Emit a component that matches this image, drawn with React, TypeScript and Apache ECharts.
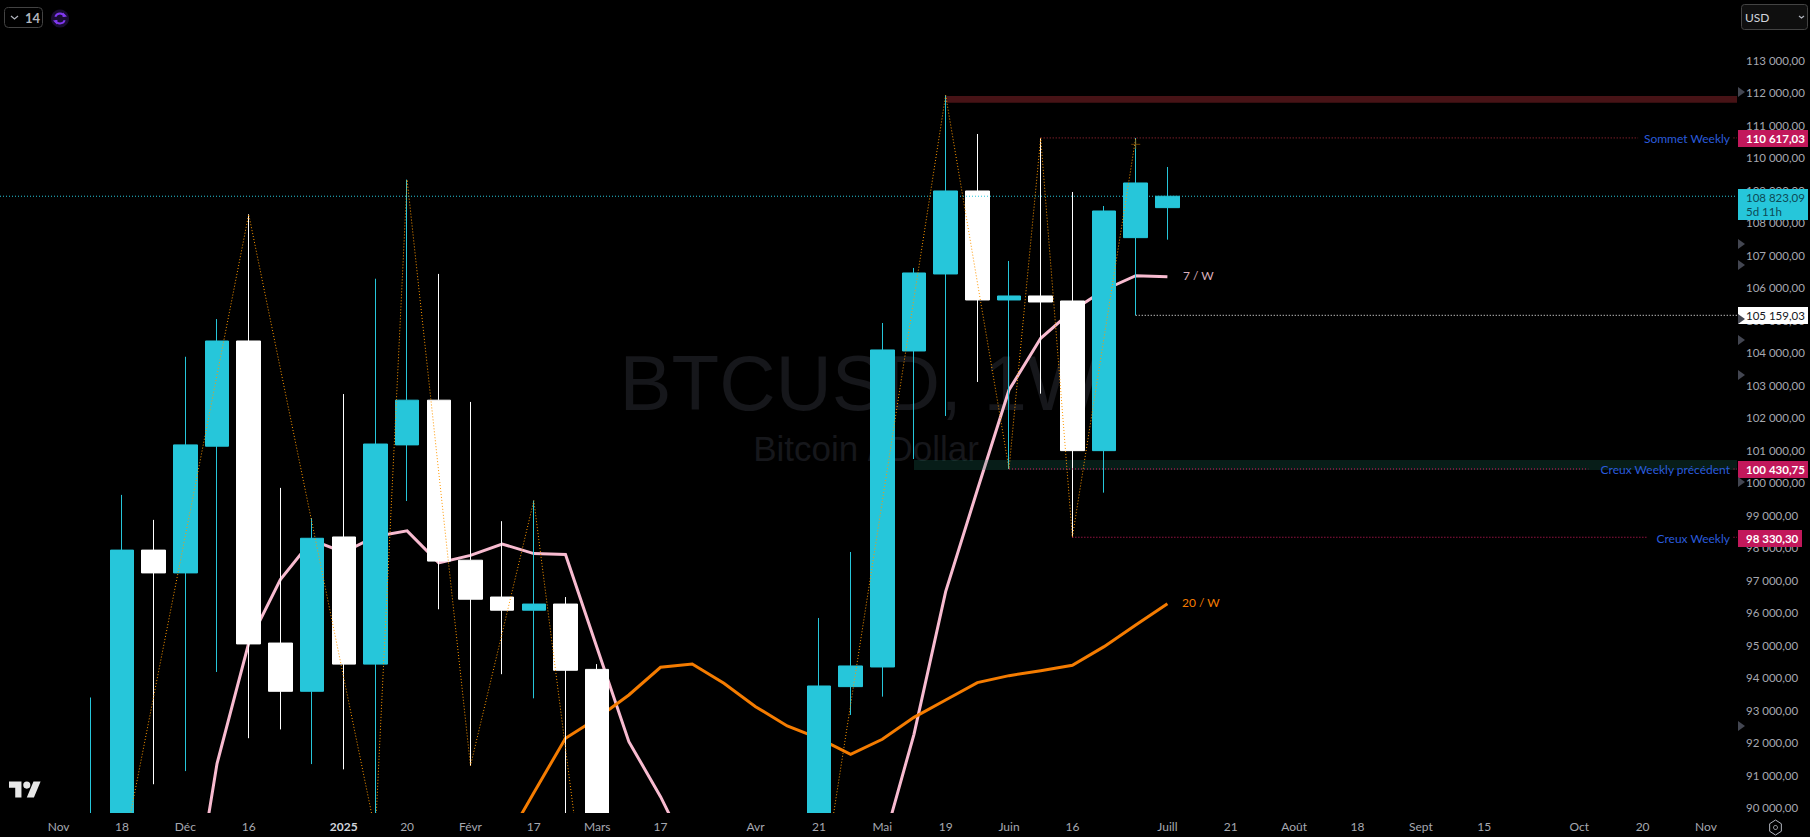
import React, { useEffect, useRef } from "react";
import * as echarts from "echarts";

const UI_FONT = "Lato, 'Noto Sans', sans-serif";
const DAY = 86400000;

// Weekly candles, week start dates
const weeks = [
  "2024-11-11","2024-11-18","2024-11-25","2024-12-02","2024-12-09","2024-12-16","2024-12-23","2024-12-30",
  "2025-01-06","2025-01-13","2025-01-20","2025-01-27","2025-02-03","2025-02-10","2025-02-17","2025-02-24",
  "2025-03-03","2025-03-10","2025-03-17","2025-03-24","2025-03-31","2025-04-07","2025-04-14","2025-04-21",
  "2025-04-28","2025-05-05","2025-05-12","2025-05-19","2025-05-26","2025-06-02","2025-06-09","2025-06-16",
  "2025-06-23","2025-06-30","2025-07-07",
];
const opens = [80400,89800,97935,97233,101132,104369,95075,93591,98339,94427,101172,102548,97624,96491,96086,96275,94265,80700,82600,86050,82400,83500,83800,85100,93734,94339,104062,106431,108985,105631,105754,105600,100995,107549,108472];
const closes = [89800,97935,97233,101172,104369,95048,93591,98299,94427,101199,102548,97597,96424,96086,96275,94238,80700,82600,86050,82400,83500,83800,85100,93754,94370,104093,106462,108985,105631,105754,105569,100995,108369,109231,108823];
const lows = [76500,89400,90731,91135,94185,92147,92417,91351,91189,89256,99445,96114,91297,94117,93375,78200,80000,76600,81100,81600,81200,74434,83100,83900,92862,93426,100738,102062,103108,100430,102749,98330,99703,105159,107487];
const highs = [93400,99634,98865,103884,105044,108268,99850,98919,102737,106285,109334,106433,102494,98825,99459,96491,94427,84700,87400,88772,88500,84300,86400,95847,97877,104923,106616,111928,110738,106831,110617,108954,108523,110617,109723];

// Moving averages
const ma7Weeks = weeks.slice(3);
const ma7 = [85400,91365,95075,97031,98245,97867,98353,98528,97543,97773,98123,97827,97800,94913,92042,90349,88380,86500,85000,84500,85000,87000,88780,92267,96657,99785,102862,104451,105300,105939,106380,106349];
const ma20Weeks = weeks.slice(12);
const ma20 = [87000,88770,90470,92147,92760,93478,94329,94431,93836,93118,92524,92144,91652,92113,92790,93323,93857,94072,94226,94390,94965,95630,96286];

// Zigzag pivots
const zigzagDates = ["2024-11-04","2024-12-16","2025-01-13","2025-01-20","2025-02-03","2025-02-17","2025-03-10","2025-03-24","2025-04-07","2025-05-19","2025-06-02","2025-06-09","2025-06-16","2025-06-30"];
const zigzagValues = [78600,108268,89256,109334,91297,99459,76600,88772,74434,111928,100430,110617,98330,110617];

// Axis ticks
const xTickDates = ["2024-11-04","2024-11-18","2024-12-02","2024-12-16","2025-01-06","2025-01-20","2025-02-03","2025-02-17","2025-03-03","2025-03-17","2025-04-07","2025-04-21","2025-05-05","2025-05-19","2025-06-02","2025-06-16","2025-07-07","2025-07-21","2025-08-04","2025-08-18","2025-09-01","2025-09-15","2025-10-06","2025-10-20","2025-11-03"];
const xTickLabels = ["Nov","18","Déc","16","2025","20","Févr","17","Mars","17","Avr","21","Mai","19","Juin","16","Juill","21","Août","18","Sept","15","Oct","20","Nov"];
const yTicks = [90000,91000,92000,93000,94000,95000,96000,97000,98000,99000,100000,101000,102000,103000,104000,105000,106000,107000,108000,109000,110000,111000,112000,113000];

// Levels
const LAST_PRICE = 108823.09;
const TOP_WEEKLY = 110617.03;
const PREV_LOW_WEEKLY = 100430.75;
const LOW_WEEKLY = 98330.3;
const WICK_LOW = 105159.03;

const ts = (s: string) => Date.parse(s + "T00:00:00Z");
const X_ZERO = ts("2024-11-18");
const dateAt = (i: number) => X_ZERO + i * 7 * DAY;
const X_MIN = dateAt(-3.851);
const X_MAX = dateAt(50.98);
const Y_MIN = 89846;
const Y_MAX = 114861;

const fmtPrice = (v: number) => {
  const [a, b] = v.toFixed(2).split(".");
  return a.replace(/\B(?=(\d{3})+$)/g, "\u202f") + "," + b;
};

const seg = (dates: string[], vals: number[]) => dates.map((d, i) => [ts(d), vals[i]]);

const levelLine = (name: string, start: number, end: number, value: number, color: string, z: number, tail = false) => ({
  name,
  type: "line",
  z,
  silent: true,
  symbol: "none",
  connectNulls: false,
  lineStyle: { color, width: 1, type: [1, 2] },
  data: tail
    ? [[start, value], [end, value], [end + DAY, "-"], [dateAt(50.87), value], [X_MAX, value]]
    : [[start, value], [end, value]],
});

const zone = (name: string, start: string, low: number, high: number, color: string, z: number) => ({
  name,
  type: "custom",
  z,
  silent: true,
  clip: true,
  itemStyle: { color },
  encode: { x: [0, 1], y: [2, 3] },
  data: [[ts(start), X_MAX, low, high]],
  renderItem: (_: any, api: any) => {
    const a = api.coord([api.value(0), api.value(3)]);
    const b = api.coord([api.value(1), api.value(2)]);
    return { type: "rect", shape: { x: a[0], y: a[1], width: b[0] - a[0], height: b[1] - a[1] }, style: { fill: api.visual("color") } };
  },
});

const tag = (yc: number, h: number, w: number, fill: string, color: string, text: string, bold: boolean): any[] => [
  { type: "rect", z: 100, shape: { x: 1738, y: Math.round(yc - h / 2), width: w, height: h }, style: { fill } },
  { type: "text", z: 101, x: 1746, y: yc, style: { text, fill: color, font: `${bold ? "bold " : ""}11.5px ${UI_FONT}`, textVerticalAlign: "middle", textAlign: "left" } },
];

const lineLabel = (right: number, y: number, text: string, fill: string): any => ({
  type: "text", z: 50, x: right, y, style: { text, fill, font: `12px ${UI_FONT}`, textAlign: "right", textVerticalAlign: "middle" },
});

echarts.graphic.registerShape("tvlogo", echarts.graphic.extendPath("M14 22H7V11H0V4h14v18zM28 22h-8l7.5-18h8L28 22zM16 8a4 4 0 1 0 8 0a4 4 0 1 0-8 0z", {}) as any);

export default function App() {
  const ref = useRef<HTMLDivElement>(null);
  useEffect(() => {
    document.body.style.margin = "0";
    document.body.style.background = "#000";
    const chart = echarts.init(ref.current!, undefined, { renderer: "svg" });
    chart.setOption({
      animation: false,
      backgroundColor: "#000000",
      grid: { left: 0, right: 73, top: 0, bottom: 24, containLabel: false },
      xAxis: {
        type: "value",
        scale: true,
        z: 20,
        min: X_MIN,
        max: X_MAX,
        axisLine: { show: false },
        axisTick: { show: false },
        splitLine: { show: false },
        axisLabel: {
          customValues: xTickDates.map(ts),
          hideOverlap: false,
          margin: 7,
          color: "#a6a8b0",
          fontFamily: UI_FONT,
          fontSize: 12,
          formatter: (v: number) => {
            const s = xTickLabels[xTickDates.map(ts).indexOf(v)] ?? "";
            return s === "2025" ? `{b|${s}}` : s;
          },
          rich: { b: { color: "#d1d4dc", fontFamily: UI_FONT, fontSize: 12, fontWeight: "bold" } },
        },
      },
      yAxis: {
        type: "value",
        position: "right",
        scale: true,
        z: 20,
        min: Y_MIN,
        max: Y_MAX,
        axisLine: { show: false },
        axisTick: { show: false },
        splitLine: { show: false },
        axisLabel: {
          customValues: yTicks,
          margin: 9,
          align: "left",
          color: "#a6a8b0",
          fontFamily: UI_FONT,
          fontSize: 11.5,
          formatter: (v: number) => fmtPrice(v),
        },
      },
      series: [
        zone("Résistance", "2025-05-19", 111702, 111908, "#471316", 1),
        { name: "7 / W", type: "line", z: 2, silent: true, symbol: "none", lineStyle: { color: "#f8bbd0", width: 3, join: "miter" }, data: seg(ma7Weeks, ma7) },
        { name: "20 / W", type: "line", z: 2, silent: true, symbol: "none", lineStyle: { color: "#f57c00", width: 3, join: "miter" }, data: seg(ma20Weeks, ma20) },
        zone("Support", "2025-05-12", 100400, 100707, "rgba(30,130,110,0.22)", 3),
        {
          name: "BTCUSD",
          type: "candlestick",
          z: 4,
          silent: true,
          barWidth: 24,
          clip: true,
          itemStyle: { color: "#26c6da", color0: "#ffffff", borderColor: "#26c6da", borderColor0: "#ffffff", borderWidth: 1 },
          encode: { x: 0, y: [1, 2, 3, 4] },
          data: weeks.map((w, i) => [ts(w), opens[i], closes[i], lows[i], highs[i]]),
        },
        { name: "ZigZag", type: "line", z: 5, silent: true, symbol: "none", lineStyle: { color: "#ff9800", width: 1, type: [1, 2] }, data: seg(zigzagDates, zigzagValues) },
        { name: "Pivot", type: "scatter", z: 5, silent: true, symbol: "path://M0 5H10M5 0V10", symbolSize: 9, itemStyle: { color: "none", borderColor: "#8a5200", borderWidth: 1 }, data: [[ts("2025-06-30"), 110420]] },
        levelLine("Last", X_MIN, X_MAX, LAST_PRICE, "#26c6da", 6),
        levelLine("Sommet Weekly", ts("2025-06-09"), ts("2025-10-19"), TOP_WEEKLY, "#b02a3c", 6, true),
        levelLine("Creux Weekly précédent", ts("2025-06-02"), ts("2025-10-08"), PREV_LOW_WEEKLY, "#d81b60", 6, true),
        levelLine("Creux Weekly", ts("2025-06-16"), ts("2025-10-21"), LOW_WEEKLY, "#d81b60", 6, true),
        levelLine("Wick", ts("2025-06-30"), X_MAX, WICK_LOW, "#ffffff", 6),
      ],
    });

    const py = (v: number) => chart.convertToPixel({ yAxisIndex: 0 }, v) as number;
    const hex = (cx: number, cy: number, r: number) => [0, 1, 2, 3, 4, 5].map((i) => {
      const a = Math.PI / 2 + (i * Math.PI) / 3;
      return [cx + r * 0.9 * Math.cos(a), cy + r * Math.sin(a)];
    });
    const tri = (y: number): any => ({ type: "polygon", z: 102, shape: { points: [[1738, y - 5], [1745, y], [1738, y + 5]] }, style: { fill: "#434651" } });
    chart.setOption({
      graphic: [
        { type: "text", z: -10, x: 860, y: 383, style: { text: "BTCUSD, 1W", fill: "#16171b", font: "78px 'Liberation Sans', Arial, sans-serif", textAlign: "center", textVerticalAlign: "middle" } },
        { type: "text", z: -10, x: 866, y: 448, style: { text: "Bitcoin / Dollar", fill: "#16171b", font: "35px 'Liberation Sans', Arial, sans-serif", textAlign: "center", textVerticalAlign: "middle" } },

        // time-scale strip: marks stop at the plot's lower edge
        { type: "rect", z: 10, shape: { x: 0, y: 813, width: 1738, height: 24 }, style: { fill: "#000000" } },

        lineLabel(1730, py(TOP_WEEKLY) + 1, "Sommet Weekly", "#2a5bdc"),
        lineLabel(1730, py(PREV_LOW_WEEKLY) + 1, "Creux Weekly précédent", "#2a5bdc"),
        lineLabel(1730, py(LOW_WEEKLY) + 1, "Creux Weekly", "#2a5bdc"),
        { type: "text", z: 50, x: 1183, y: py(106349) - 1, style: { text: "7 / W", fill: "#d9aebb", font: `12px ${UI_FONT}`, textVerticalAlign: "middle" } },
        { type: "text", z: 50, x: 1182, y: py(96286) - 1, style: { text: "20 / W", fill: "#f57c00", font: `12px ${UI_FONT}`, textVerticalAlign: "middle" } },

        ...tag(py(TOP_WEEKLY) + 1, 17, 70, "#c2185b", "#ffffff", fmtPrice(TOP_WEEKLY), true),
        ...tag(py(PREV_LOW_WEEKLY) + 1, 17, 70, "#c2185b", "#ffffff", fmtPrice(PREV_LOW_WEEKLY), true),
        ...tag(py(LOW_WEEKLY) + 1, 17, 64, "#c2185b", "#ffffff", fmtPrice(LOW_WEEKLY), true),
        ...tag(py(WICK_LOW) + 0.5, 17, 70, "#ffffff", "#131722", fmtPrice(WICK_LOW), false),
        { type: "rect", z: 100, shape: { x: 1738, y: 189, width: 70, height: 31 }, style: { fill: "#26c6da" } },
        { type: "text", z: 101, x: 1746, y: 197, style: { text: fmtPrice(LAST_PRICE), fill: "#0d4a55", font: `11.5px ${UI_FONT}`, textVerticalAlign: "middle" } },
        { type: "text", z: 101, x: 1746, y: 211, style: { text: "5d 11h", fill: "#0d4a55", font: `11.5px ${UI_FONT}`, textVerticalAlign: "middle" } },

        tri(92), tri(244), tri(265), tri(319), tri(340), tri(375), tri(482), tri(726),

        // top-left interval button
        { type: "rect", z: 100, shape: { x: 4.5, y: 7.5, width: 38, height: 20, r: 4 }, style: { fill: "#000", stroke: "#434343", lineWidth: 1 } },
        { type: "polyline", z: 101, shape: { points: [[11, 16], [14.5, 19], [18, 16]] }, style: { fill: "none", stroke: "#b2b5be", lineWidth: 1.2 } },
        { type: "text", z: 101, x: 25, y: 18, style: { text: "14", fill: "#b2b5be", font: `bold 13px ${UI_FONT}`, textVerticalAlign: "middle" } },
        { type: "circle", z: 100, shape: { cx: 60, cy: 18.5, r: 9 }, style: { fill: "#1a0d33" } },
        { type: "arc", z: 101, shape: { cx: 60, cy: 18.5, r: 5, startAngle: 3.5, endAngle: 5.9 }, style: { fill: "none", stroke: "#8038f0", lineWidth: 2 } },
        { type: "arc", z: 101, shape: { cx: 60, cy: 18.5, r: 5, startAngle: 0.36, endAngle: 2.76 }, style: { fill: "none", stroke: "#8038f0", lineWidth: 2 } },
        { type: "polygon", z: 101, shape: { points: [[63, 12.5], [67, 16.5], [62.5, 17]] }, style: { fill: "#8038f0" } },
        { type: "polygon", z: 101, shape: { points: [[57, 24.5], [53, 20.5], [57.5, 20]] }, style: { fill: "#8038f0" } },

        // top-right currency button
        { type: "rect", z: 100, shape: { x: 1741.5, y: 4.5, width: 66, height: 25, r: 3 }, style: { fill: "#0f0f0f", stroke: "#434343", lineWidth: 1 } },
        { type: "text", z: 101, x: 1745, y: 17, style: { text: "USD", fill: "#d1d4dc", font: `12px ${UI_FONT}`, textVerticalAlign: "middle" } },
        { type: "polyline", z: 101, shape: { points: [[1799, 16], [1801.5, 18], [1804, 16]] }, style: { fill: "none", stroke: "#b2b5be", lineWidth: 1.2 } },

        // TradingView mark
        { type: "tvlogo", z: 100, x: 9, y: 778, scaleX: 0.89, scaleY: 0.89, style: { fill: "#e8e8e8" } },

        // settings icon
        { type: "polygon", z: 100, shape: { points: hex(1775.5, 827.5, 7.5) }, style: { fill: "none", stroke: "#b2b5be", lineWidth: 1 } },
        { type: "circle", z: 100, shape: { cx: 1775.5, cy: 827.5, r: 2 }, style: { fill: "none", stroke: "#b2b5be", lineWidth: 1 } },
      ],
    });
    return () => chart.dispose();
  }, []);
  return <div ref={ref} style={{ width: 1810, height: 837 }} />;
}
